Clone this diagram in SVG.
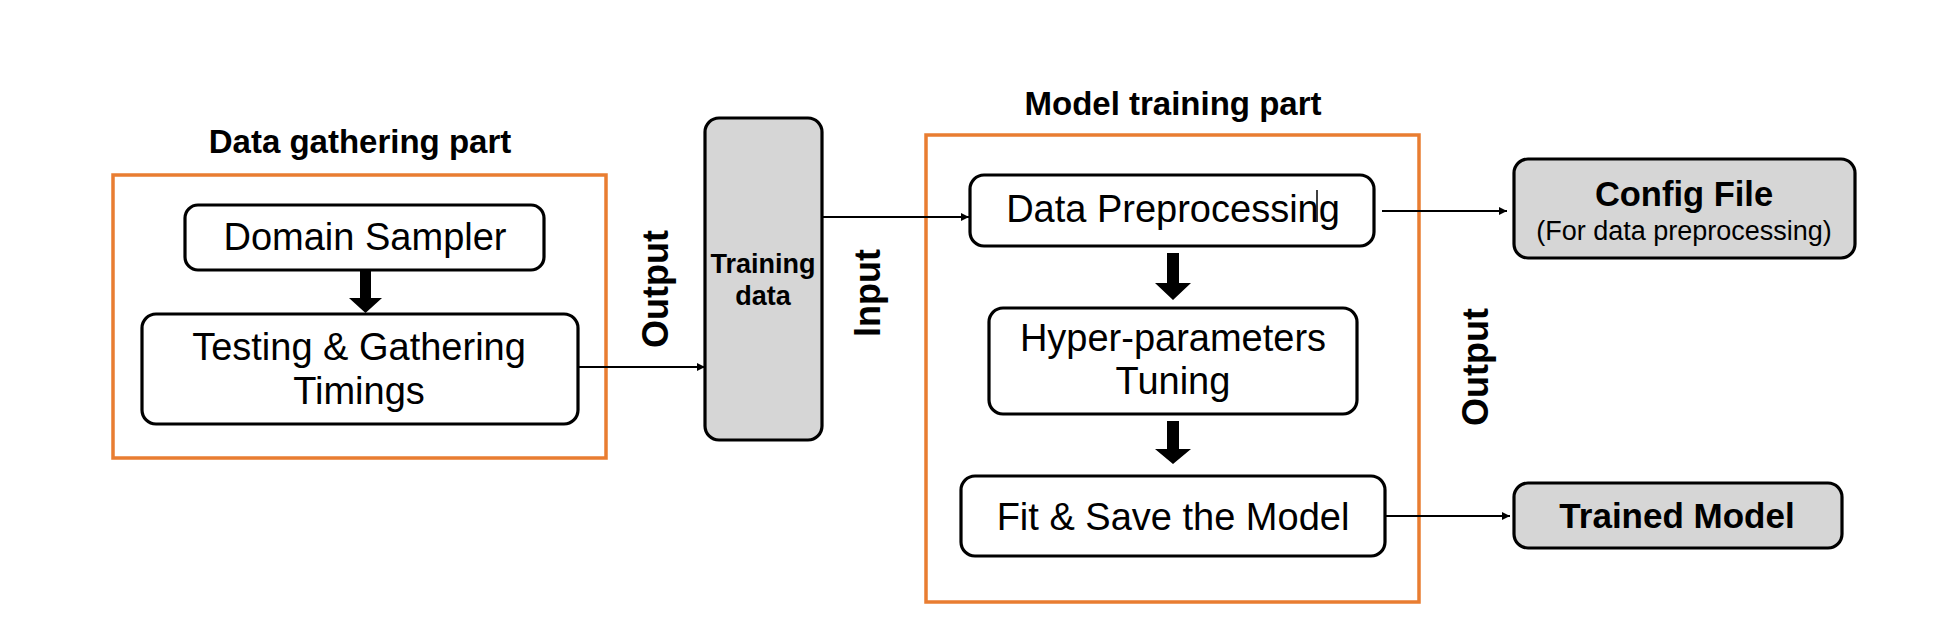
<svg xmlns="http://www.w3.org/2000/svg" width="1946" height="624" viewBox="0 0 1946 624">
<defs>
<style>
.bg{fill:#ffffff}
.part{fill:none;stroke:#E97D31;stroke-width:3.5}
.node{fill:#ffffff;stroke:#000;stroke-width:3.2}
.gnode{fill:#D6D6D6;stroke:#000;stroke-width:3.2}
.t{font-family:"Liberation Sans",Arial,Helvetica,sans-serif;fill:#000;text-anchor:middle}
.reg{font-size:38px}
.b{font-weight:bold}
.conn{stroke:#000;stroke-width:2;fill:none}
.thick{fill:#000;stroke:none}
</style>
<marker id="ah" viewBox="0 0 10 10" refX="10" refY="5" markerWidth="10" markerHeight="8" markerUnits="userSpaceOnUse" orient="auto">
<path d="M0,0 L10,5 L0,10 z" fill="#000"/>
</marker>
</defs>
<rect class="bg" x="0" y="0" width="1946" height="624"/>

<g id="data-gathering-part">
<rect class="part" x="113" y="175" width="493" height="283"/>
<text class="t b" x="360" y="153" font-size="33">Data gathering part</text>
</g>

<g id="model-training-part">
<rect class="part" x="926" y="135" width="493" height="467"/>
<text class="t b" x="1173" y="115" font-size="33">Model training part</text>
</g>

<g id="domain-sampler">
<rect class="node" x="185" y="205" width="359" height="65" rx="13"/>
<text class="t reg" x="365" y="250">Domain Sampler</text>
</g>

<g id="testing-gathering">
<rect class="node" x="142" y="314" width="436" height="110" rx="14"/>
<text class="t reg" x="359" y="360">Testing &amp; Gathering</text>
<text class="t reg" x="359" y="404">Timings</text>
</g>

<g id="training-data">
<rect class="gnode" x="705" y="118" width="117" height="322" rx="14"/>
<text class="t b" x="763" y="273" font-size="27">Training</text>
<text class="t b" x="763" y="305" font-size="27">data</text>
</g>

<g id="data-preprocessing">
<rect class="node" x="970" y="175" width="404" height="71" rx="14"/>
<text class="t reg" x="1173" y="222">Data Preprocessing</text>
<line x1="1317" y1="190" x2="1317" y2="222" stroke="#000" stroke-width="1.5"/>
</g>

<g id="hyper-parameters-tuning">
<rect class="node" x="989" y="308" width="368" height="106" rx="14"/>
<text class="t reg" x="1173" y="351">Hyper-parameters</text>
<text class="t reg" x="1173" y="394">Tuning</text>
</g>

<g id="fit-save-model">
<rect class="node" x="961" y="476" width="424" height="80" rx="14"/>
<text class="t reg" x="1173" y="530">Fit &amp; Save the Model</text>
</g>

<g id="config-file">
<rect class="gnode" x="1514" y="159" width="341" height="99" rx="14"/>
<text class="t b" x="1684" y="206" font-size="34.5">Config File</text>
<text class="t" x="1684" y="240" font-size="27">(For data preprocessing)</text>
</g>

<g id="trained-model">
<rect class="gnode" x="1514" y="483" width="328" height="65" rx="14"/>
<text class="t b" x="1677" y="528" font-size="35">Trained Model</text>
</g>

<g id="labels">
<text class="t b" font-size="36" transform="translate(668,289) rotate(-90)">Output</text>
<text class="t b" font-size="36" transform="translate(880,293) rotate(-90)">Input</text>
<text class="t b" font-size="36" transform="translate(1488,367) rotate(-90)">Output</text>
</g>

<g id="connectors">
<line class="conn" x1="578" y1="367" x2="705" y2="367" marker-end="url(#ah)"/>
<line class="conn" x1="822" y1="217" x2="969" y2="217" marker-end="url(#ah)"/>
<line class="conn" x1="1382" y1="211" x2="1507" y2="211" marker-end="url(#ah)"/>
<line class="conn" x1="1385" y1="516" x2="1510" y2="516" marker-end="url(#ah)"/>
<path class="thick" d="M360,271 L371,271 L371,298 L382,298 L365.5,313 L349,298 L360,298 z"/>
<path class="thick" d="M1167,253 L1179,253 L1179,283 L1191,283 L1173,300 L1155,283 L1167,283 z"/>
<path class="thick" d="M1167,421 L1179,421 L1179,449 L1191,449 L1173,464 L1155,449 L1167,449 z"/>
</g>
</svg>
